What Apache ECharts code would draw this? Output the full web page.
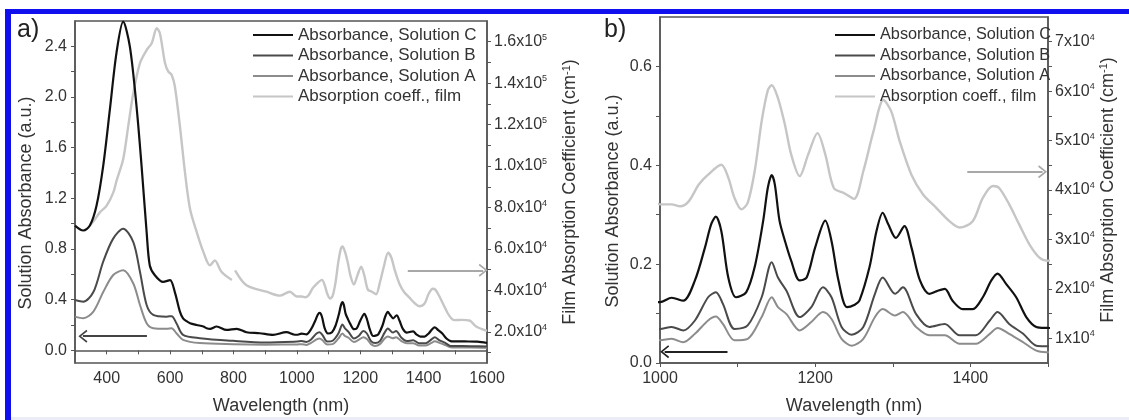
<!DOCTYPE html>
<html><head><meta charset="utf-8">
<script src="https://cdn.jsdelivr.net/npm/echarts@6/dist/echarts.min.js"></script>
<style>html,body{margin:0;padding:0;background:#fff}#c{width:1129px;height:420px}</style>
</head><body><div id="c"></div>
<script>
const seriesNames = ['Absorbance, Solution C','Absorbance, Solution B','Absorbance, Solution A','Absorption coeff., film'];

const wlC = [300,326,347,368,389,410,431,452,473,494,510,526,536,552,578,600,615,631,641,652,663,684,705,715,726,747,778,810,841,883,925,967,990,
  1000,1015,1030,1045,1058,1066,1072,1079,1088,1098,1111,1122,1133,1139,1144,1148,1154,1161,1169,1180,1189,1200,1213,1221,1230,1241,1251,1257,1270,1279,1287,1294,1304,1315,1324,1335,1347,1356,1367,1377,1390,1403,1416,1427,1435,1446,1459,1472,1485,1498,1530,1570,1600];
const absC = [0.985,0.946,0.985,1.143,1.457,1.90,2.35,2.595,2.40,1.93,1.457,0.934,0.67,0.593,0.54,0.555,0.46,0.306,0.253,0.23,0.214,0.20,0.188,0.175,0.169,0.188,0.161,0.17,0.143,0.135,0.122,0.143,0.125,
  0.123,0.132,0.126,0.167,0.234,0.281,0.296,0.267,0.173,0.133,0.143,0.194,0.288,0.355,0.380,0.361,0.288,0.247,0.207,0.167,0.173,0.234,0.288,0.247,0.167,0.113,0.118,0.126,0.194,0.267,0.304,0.281,0.253,0.277,0.234,0.167,0.140,0.145,0.150,0.126,0.109,0.109,0.133,0.167,0.181,0.160,0.133,0.093,0.073,0.071,0.07,0.068,0.058];

const wlB = [300,326,358,389,420,452,484,505,526,547,589,605,620,641,694,799,900,
  1000,1015,1030,1045,1062,1072,1081,1096,1113,1131,1144,1152,1163,1180,1195,1210,1221,1234,1247,1262,1277,1287,1303,1313,1330,1347,1367,1386,1407,1425,1435,1450,1468,1485,1498,1550,1600];
const absB = [0.397,0.384,0.46,0.70,0.88,0.96,0.855,0.62,0.358,0.28,0.266,0.27,0.214,0.122,0.096,0.075,0.062,
  0.069,0.073,0.066,0.086,0.133,0.143,0.120,0.069,0.076,0.133,0.204,0.173,0.146,0.093,0.113,0.153,0.133,0.073,0.057,0.073,0.140,0.173,0.140,0.153,0.099,0.073,0.079,0.056,0.056,0.086,0.103,0.079,0.059,0.035,0.034,0.033,0.03];

const wlA = [300,326,358,389,420,452,484,505,526,547,589,605,620,641,694,800,900,
  1000,1015,1030,1045,1062,1072,1081,1096,1113,1131,1144,1152,1163,1180,1195,1210,1221,1234,1247,1262,1277,1287,1303,1313,1330,1347,1367,1386,1407,1425,1435,1450,1468,1485,1498,1550,1600];
const absA = [0.266,0.253,0.306,0.46,0.593,0.632,0.528,0.358,0.214,0.175,0.17,0.175,0.135,0.083,0.057,0.048,0.045,
  0.046,0.049,0.042,0.059,0.086,0.094,0.079,0.046,0.049,0.093,0.133,0.113,0.099,0.066,0.083,0.103,0.089,0.049,0.035,0.049,0.093,0.109,0.096,0.103,0.073,0.056,0.056,0.039,0.039,0.059,0.071,0.059,0.042,0.025,0.022,0.022,0.02];

const wlFilm = [347,360,379,400,421,431,452,468,484,505,526,542,558,568,584,594,605,615,631,647,663,684,705,726,741,762,795,800,805,841,904,946,978,
  1000,1015,1026,1037,1050,1062,1079,1088,1096,1105,1113,1122,1131,1139,1144,1152,1161,1169,1180,1191,1203,1213,1224,1237,1250,1262,1275,1288,1298,1309,1324,1339,1356,1373,1386,1403,1416,1429,1437,1450,1463,1476,1489,1499,1520,1545,1566,1600];
const coefFilm = [71300,73700,77800,80900,87300,92900,103300,119300,135300,149700,156000,159300,166500,164000,149700,145700,144000,138500,119300,97000,79300,68200,58600,52100,54500,49000,45000,null,49700,42500,39400,37500,39400,
  37100,37100,36700,37700,41100,43100,45100,42500,38400,36100,37400,43800,53900,60200,61200,58600,53200,47200,42800,47200,51500,47200,40400,39400,38200,43800,51800,58200,55900,49800,43100,39100,36400,33700,32400,33700,38400,40800,40400,37100,33000,29000,26300,25700,25800,25500,22600,20500];

// tick values
const xLabelsA = [400,600,800,1000,1200,1400,1600];
const xTicksA = [300,400,500,600,700,800,900,1000,1100,1200,1300,1400,1500,1600];
const yLabelsA = [0,0.4,0.8,1.2,1.6,2.0,2.4];
const yTicksA = [0,0.2,0.4,0.6,0.8,1.0,1.2,1.4,1.6,1.8,2.0,2.2,2.4];
const y2LabelsA = [20000,40000,60000,80000,100000,120000,140000,160000];
const y2TicksA = [10000,20000,30000,40000,50000,60000,70000,80000,90000,100000,110000,120000,130000,140000,150000,160000];
const xLabelsB = [1000,1200,1400];
const xTicksB = [1000,1100,1200,1300,1400,1500];
const yLabelsB = [0,0.2,0.4,0.6];
const yTicksB = [0,0.1,0.2,0.3,0.4,0.5,0.6];
const y2LabelsB = [10000,20000,30000,40000,50000,60000,70000];
const y2TicksB = [10000,15000,20000,25000,30000,35000,40000,45000,50000,55000,60000,65000,70000];

const colors = ['#111111','#4a4a4a','#8c8c8c','#c6c6c6'];
const F = '"Liberation Sans", Arial, Helvetica, sans-serif';
const TXT = '#333';
const AX = '#555';

function pairs(wl, v){ return wl.map((x,i)=>[x, v[i]===null ? '-' : v[i]]); }
const chevron = 'path://M0,10 L7,0 L14,10 L12.4,11.2 L7,3.2 L1.6,11.2 Z';

function xAxisCfg(grid, min, max, labels, ticks){
  return {type:'value', gridIndex:grid, min, max,
    axisLine:{show:true, lineStyle:{color:AX, width:1.5}},
    axisTick:{show:true, customValues:ticks, length:4, lineStyle:{color:AX}},
    axisLabel:{customValues:labels, fontSize:16, color:TXT, fontFamily:F, margin:8, formatter:v=>String(v)},
    splitLine:{show:false},
    name:'Wavelength (nm)', nameLocation:'middle', nameGap:34,
    nameTextStyle:{fontSize:18, color:TXT, fontFamily:F}};
}
function yLeftCfg(grid, min, max, labels, ticks, gap){
  return {type:'value', gridIndex:grid, min, max, position:'left',
    axisLine:{show:true, lineStyle:{color:AX, width:1.5}},
    axisTick:{show:true, customValues:ticks, length:4, lineStyle:{color:AX}},
    axisLabel:{customValues:labels, fontSize:16, color:TXT, fontFamily:F, margin:8, formatter:v=>v.toFixed(1)},
    splitLine:{show:false},
    name:'Solution Absorbance (a.u.)', nameLocation:'middle', nameRotate:90, nameGap:gap,
    nameTextStyle:{fontSize:18, color:TXT, fontFamily:F, padding:[0,22,0,0]}};
}
function yRightCfg(grid, min, max, labels, ticks, fmt, gap){
  return {type:'value', gridIndex:grid, min, max, position:'right',
    axisLine:{show:true, lineStyle:{color:AX, width:1.5}},
    axisTick:{show:true, customValues:ticks, length:4, lineStyle:{color:AX}},
    axisLabel:{customValues:labels, color:TXT, fontFamily:F, margin:7, formatter:fmt,
      rich:{b:{fontSize:16, color:TXT, fontFamily:F, lineHeight:18}, s:{fontSize:9, color:TXT, fontFamily:F, verticalAlign:'top', lineHeight:9}}},
    splitLine:{show:false},
    name:'Film Absorption Coefficient (cm{s|-1})', nameLocation:'middle', nameRotate:90, nameGap:gap,
    nameTextStyle:{fontSize:18, color:TXT, fontFamily:F,
      rich:{s:{fontSize:11, color:TXT, fontFamily:F, verticalAlign:'top', lineHeight:11}}}};
}
const fmtA = v => v >= 100000 ? '{b|'+(v/1e5).toFixed(1)+'x10}{s|5}' : '{b|'+(v/1e4).toFixed(1)+'x10}{s|4}';
const fmtB = v => '{b|'+(v/1e4).toFixed(0)+'x10}{s|4}';

function lineSeries(name, data, xi, yi, color, width, z){
  return {name, type:'line', data, xAxisIndex:xi, yAxisIndex:yi, showSymbol:false, symbol:'none',
    smooth:0.3, color, lineStyle:{color, width}, z, animation:false};
}
function arrow(x1, x2, y, color){
  return {silent:true, animation:false, symbol:['none', chevron], symbolSize:[13,9],
    label:{show:false}, lineStyle:{color, width:2, type:'solid'},
    data:[[{coord:[x1,y]},{coord:[x2,y]}]]};
}

const series = [];
[[0,0,1],[1,2,3]].forEach(([xi, yl, yr], p) => {
  const film = lineSeries(seriesNames[3], pairs(wlFilm, coefFilm), xi, yr, colors[3], 2.4, 2);
  const sA = lineSeries(seriesNames[2], pairs(wlA, absA), xi, yl, colors[2], 2, 3);
  const sB = lineSeries(seriesNames[1], pairs(wlB, absB), xi, yl, colors[1], 2, 4);
  const sC = lineSeries(seriesNames[0], pairs(wlC, absC), xi, yl, colors[0], 2.2, 5);
  if (p === 0) {
    sC.markLine = arrow(527, 325, 0.112, '#444');
    film.markLine = arrow(1350, 1588, 49700, '#a8a8a8');
  } else {
    sC.markLine = arrow(1087, 1006, 0.023, '#222');
    film.markLine = arrow(1396, 1493, 43700, '#a8a8a8');
  }
  series.push(film, sA, sB, sC);
});

const legendBase = {orient:'vertical', icon:'rect', itemWidth:40, itemHeight:2, itemGap:0.5,
  textStyle:{fontSize:17, lineHeight:20, color:TXT, fontFamily:F}, data:seriesNames, selectedMode:false};

const chart = echarts.init(document.getElementById('c'), null, {renderer:'canvas'});
chart.setOption({
  animation:false,
  backgroundColor:'#ffffff',
  title:[
    {text:'a)', left:12, top:13, textStyle:{fontSize:25, fontWeight:'normal', color:'#222', fontFamily:F}},
    {text:'b)', left:599, top:13, textStyle:{fontSize:25, fontWeight:'normal', color:'#222', fontFamily:F}}
  ],
  legend:[
    Object.assign({}, legendBase, {left:248, top:20}),
    Object.assign({}, legendBase, {left:830, top:20, textStyle:{fontSize:16.3, lineHeight:20, color:TXT, fontFamily:F}})
  ],
  grid:[
    {left:75, right:642, top:21, bottom:55, show:true, borderColor:AX, borderWidth:1.5, containLabel:false},
    {left:660, right:81, top:17, bottom:56, show:true, borderColor:AX, borderWidth:1.5, containLabel:false}
  ],
  xAxis:[
    xAxisCfg(0, 300, 1600, xLabelsA, xTicksA),
    xAxisCfg(1, 1000, 1500, xLabelsB, xTicksB)
  ],
  yAxis:[
    yLeftCfg(0, -0.1, 2.6, yLabelsA, yTicksA, 40),
    yRightCfg(0, 5000, 170000, y2LabelsA, y2TicksA, fmtA, 74),
    yLeftCfg(1, 0, 0.7, yLabelsB, yTicksB, 38),
    yRightCfg(1, 5000, 75000, y2LabelsB, y2TicksB, fmtB, 42)
  ],
  series,
  graphic:[
    {type:'rect', shape:{x:5, y:9, width:1124, height:5}, style:{fill:'#1010ee'}, silent:true},
    {type:'rect', shape:{x:5, y:9, width:6, height:411}, style:{fill:'#1010ee'}, silent:true},
    {type:'rect', shape:{x:11, y:417, width:1118, height:3}, style:{fill:'#ececf6'}, silent:true}
  ]
});
</script></body></html>
